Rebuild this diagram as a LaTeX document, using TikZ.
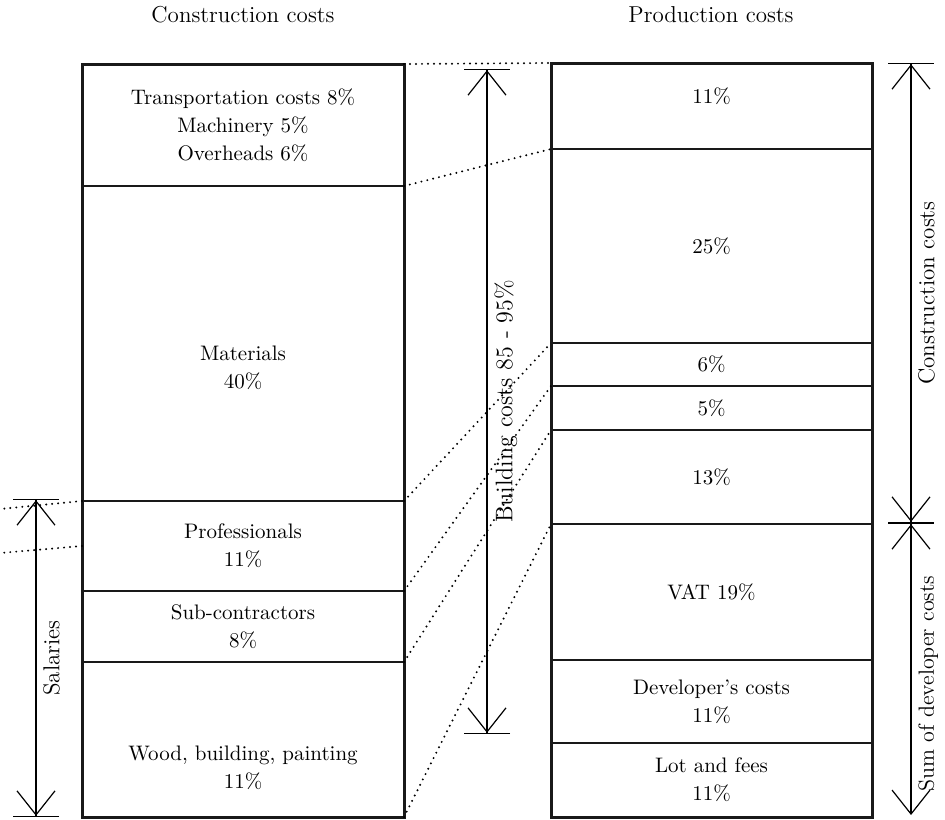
\documentclass[tikz,border=0pt]{standalone}
\usepackage{tikz}
\usetikzlibrary{positioning}
\usetikzlibrary{arrows.meta}
\tikzset{>={Straight Barb[length=12pt,width=19pt]}}

\begin{document}
\begin{tikzpicture}[x=0.5pt, y=-0.5pt, every node/.style={font=\fontsize{10.5}{14}\selectfont, align=center}, lcell/.style={draw=black!90, line width=1pt, minimum width=161pt, inner sep=0pt, outer sep=0pt}, rcell/.style={draw=black!90, line width=1pt, minimum width=160.5pt, inner sep=0pt, outer sep=0pt}, frame/.style={draw=black!90, line width=1.5pt}, link/.style={line width=1.1pt, line cap=round, dash pattern=on 0pt off 3pt}, dim/.style={line width=0.6pt, {Bar[width=23pt] <}-{> Bar[width=23pt]}}, vlabel/.style={rotate=90, anchor=north, font=\fontsize{11.5}{14}\selectfont}]

    \useasboundingbox (0,0) rectangle (945,819);

    %Titles
    \node[font=\fontsize{11.5}{14}\selectfont] (titleleft) at (243,15) {Construction costs};
    \node[font=\fontsize{11.5}{14}\selectfont] (titleright) at (711,15) {Production costs};

    %Construction costs column
    \node[lcell, minimum height=61pt, anchor=north west] (transport) at (82,64) {Transportation costs 8\%\\Machinery 5\%\\Overheads 6\%};
    \node[lcell, minimum height=157.5pt, below=0pt of transport] (materials) {};
    \node[lcell, minimum height=45pt, below=0pt of materials] (professionals) {Professionals\\11\%};
    \node[lcell, minimum height=35.5pt, below=0pt of professionals] (subcontr) {Sub-contractors\\8\%};
    \node[lcell, minimum height=77.5pt, below=0pt of subcontr] (wood) {};
    \node (materialstext) at ([yshift=-12pt]materials.center) {Materials\\40\%};
    \node (woodtext) at ([yshift=-14pt]wood.center) {Wood, building, painting\\11\%};
    \draw[frame] (transport.north west) rectangle (wood.south east);

    %Production costs column
    \node[rcell, minimum height=43pt, anchor=north west] (c11) at (551,63) {};
    \node[rcell, minimum height=97pt, below=0pt of c11] (c25) {25\%};
    \node[rcell, minimum height=21.5pt, below=0pt of c25] (c6) {6\%};
    \node[rcell, minimum height=22pt, below=0pt of c6] (c5) {5\%};
    \node[rcell, minimum height=47pt, below=0pt of c5] (c13) {13\%};
    \node[rcell, minimum height=68pt, below=0pt of c13] (vat) {VAT 19\%};
    \node[rcell, minimum height=41.5pt, below=0pt of vat] (developer) {Developer's costs\\11\%};
    \node[rcell, minimum height=37pt, below=0pt of developer] (lot) {Lot and fees\\11\%};
    \node (c11text) at ([yshift=5pt]c11.center) {11\%};
    \draw[frame] (c11.north west) rectangle (lot.south east);

    %Dotted links
    \coordinate (offa) at (0,509);
    \coordinate (offb) at (0,553);
    \draw[link] (transport.north east) -- (c11.north west);
    \draw[link] (materials.north east) -- (c25.north west);
    \draw[link] (professionals.north east) -- (c6.north west);
    \draw[link] (subcontr.north east) -- (c5.north west);
    \draw[link] (wood.north east) -- (c13.north west);
    \draw[link] (wood.south east) -- (vat.north west);
    \draw[link] (professionals.north west) -- (offa);
    \draw[link] (professionals.west) -- (offb);

    %Dimension arrows
    \coordinate (saltop) at (36,499);
    \coordinate (salbot) at (36,817);
    \coordinate (bctop) at (487,69);
    \coordinate (bcbot) at (487,734);
    \coordinate (cctop) at (911,63);
    \coordinate (ccmid) at (911,523);
    \coordinate (sdbot) at (911,815);
    \draw[dim] (saltop) -- node[vlabel] (salaries) {Salaries} (salbot);
    \draw[dim] (bctop) -- node[vlabel, font=\fontsize{12}{14}\selectfont] (building) {Building costs 85 - 95\%} (bcbot);
    \draw[dim] (cctop) -- node[vlabel] (constrlabel) {Construction costs} (ccmid);
    \draw[line width=0.6pt, {Bar[width=23pt] <}->] (ccmid) -- node[vlabel, pos=0.55, font=\fontsize{11}{14}\selectfont] (sumlabel) {Sum of developer costs} (sdbot);

\end{tikzpicture}
\end{document}
